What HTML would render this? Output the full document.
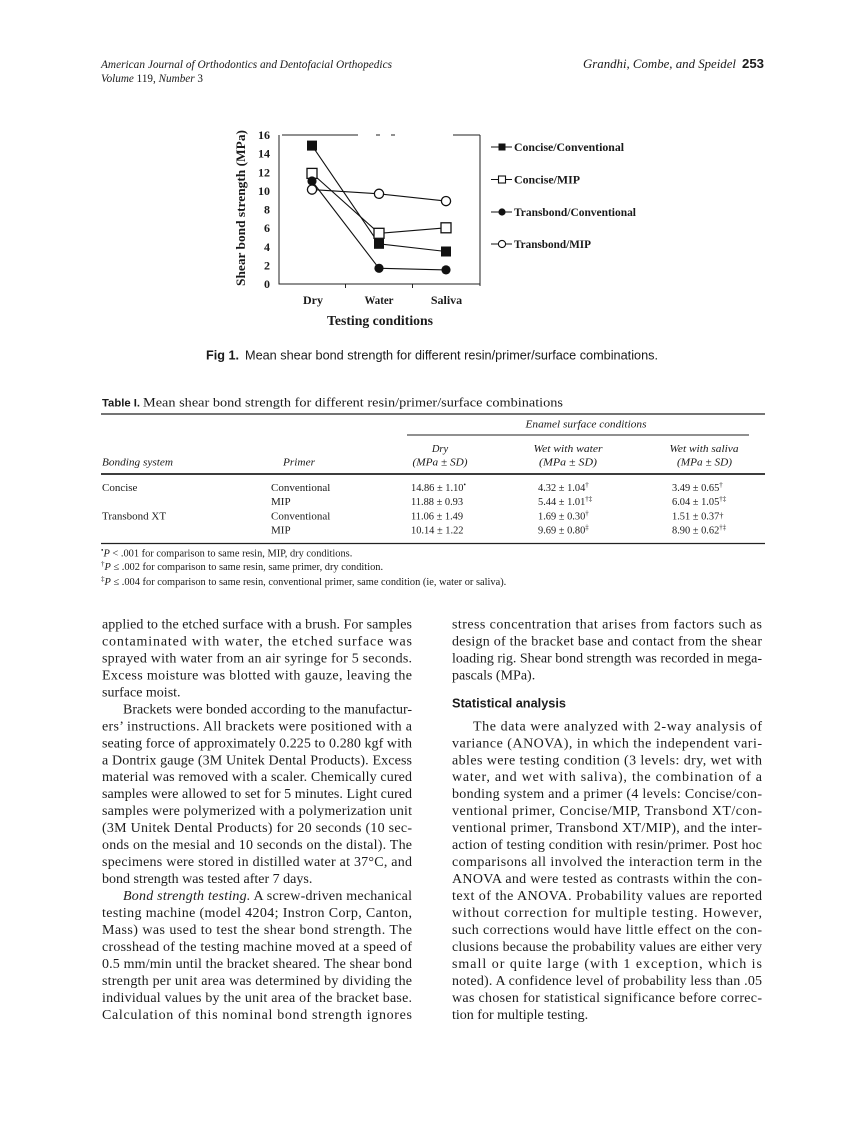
<!DOCTYPE html>
<html><head><meta charset="utf-8"><style>
html,body{margin:0;padding:0;background:#fff;}
body{width:866px;height:1122px;overflow:hidden;position:relative;}
svg{position:absolute;left:0;top:0;}
</style></head><body>
<svg width="866" height="1122" viewBox="0 0 866 1122" xmlns="http://www.w3.org/2000/svg" font-family="'Liberation Serif', serif" fill="#1a1a1a">
<!-- Header -->
<text x="101" y="68" font-size="11.5" font-style="italic" textLength="291" lengthAdjust="spacingAndGlyphs">American Journal of Orthodontics and Dentofacial Orthopedics</text>
<text x="101" y="82" font-size="11.5" font-style="italic" textLength="102" lengthAdjust="spacingAndGlyphs">Volume <tspan font-style="normal">119,</tspan> Number <tspan font-style="normal">3</tspan></text>
<text x="583" y="68" font-size="12.5" font-style="italic" textLength="153" lengthAdjust="spacingAndGlyphs">Grandhi, Combe, and Speidel</text>
<text x="742" y="68" font-size="12.5" font-weight="bold" font-family="'Liberation Sans', sans-serif" textLength="22" lengthAdjust="spacingAndGlyphs">253</text>

<!-- Chart frame -->
<g stroke="#222" stroke-width="1" fill="none">
<line x1="279" y1="135" x2="279" y2="284.5"/>
<line x1="279" y1="284" x2="480" y2="284"/>
<line x1="282" y1="135" x2="358" y2="135"/>
<line x1="376" y1="135" x2="380" y2="135"/>
<line x1="391" y1="135" x2="395" y2="135"/>
<line x1="453" y1="135" x2="480" y2="135"/>
<line x1="480" y1="135" x2="480" y2="286"/>
<line x1="345.5" y1="284" x2="345.5" y2="288"/>
<line x1="412.5" y1="284" x2="412.5" y2="288"/>
</g>
<!-- Y tick labels -->
<g font-size="12" font-weight="bold" text-anchor="end">
<text x="270" y="288">0</text>
<text x="270" y="269.4">2</text>
<text x="270" y="250.8">4</text>
<text x="270" y="232.1">6</text>
<text x="270" y="213.5">8</text>
<text x="270" y="194.9">10</text>
<text x="270" y="176.3">12</text>
<text x="270" y="157.6">14</text>
<text x="270" y="139">16</text>
</g>
<text transform="translate(245,208) rotate(-90)" text-anchor="middle" font-size="13" font-weight="bold" textLength="156" lengthAdjust="spacingAndGlyphs">Shear bond strength (MPa)</text>
<!-- X labels -->
<g font-size="12" font-weight="bold" text-anchor="middle">
<text x="313" y="304">Dry</text>
<text x="379" y="304" textLength="29" lengthAdjust="spacingAndGlyphs">Water</text>
<text x="446.5" y="304">Saliva</text>
</g>
<text x="380" y="325" text-anchor="middle" font-size="13.5" font-weight="bold" textLength="106" lengthAdjust="spacingAndGlyphs">Testing conditions</text>

<!-- Series lines -->
<g stroke="#111" stroke-width="1.1" fill="none">
<polyline points="312,145.6 379,243.8 446,251.5"/>
<polyline points="312,173.4 379,233.3 446,227.8"/>
<polyline points="312,181 379,268.3 446,269.9"/>
<polyline points="312,189.6 379,193.8 446,201.1"/>
</g>
<!-- Markers -->
<g fill="#111">
<rect x="307" y="140.6" width="10" height="10"/>
<rect x="374" y="238.8" width="10" height="10"/>
<rect x="441" y="246.5" width="10" height="10"/>
</g>
<g fill="#fff" stroke="#111" stroke-width="1.3">
<rect x="307" y="168.4" width="10" height="10"/>
<rect x="374" y="228.3" width="10" height="10"/>
<rect x="441" y="222.8" width="10" height="10"/>
</g>
<g fill="#111">
<circle cx="312" cy="181" r="4.6"/>
<circle cx="379" cy="268.3" r="4.6"/>
<circle cx="446" cy="269.9" r="4.6"/>
</g>
<g fill="#fff" stroke="#111" stroke-width="1.3">
<circle cx="312" cy="189.6" r="4.6"/>
<circle cx="379" cy="193.8" r="4.6"/>
<circle cx="446" cy="201.1" r="4.6"/>
</g>

<!-- Legend -->
<g stroke="#111" stroke-width="1.1">
<line x1="491" y1="147" x2="512" y2="147"/>
<line x1="491" y1="179.5" x2="512" y2="179.5"/>
<line x1="491" y1="212" x2="512" y2="212"/>
<line x1="491" y1="244" x2="512" y2="244"/>
</g>
<rect x="498.5" y="143.5" width="7" height="7" fill="#111"/>
<rect x="498.5" y="176" width="7" height="7" fill="#fff" stroke="#111" stroke-width="1.1"/>
<circle cx="502" cy="212" r="3.6" fill="#111"/>
<circle cx="502" cy="244" r="3.6" fill="#fff" stroke="#111" stroke-width="1.1"/>
<g font-size="12" font-weight="bold">
<text x="514" y="151" textLength="110" lengthAdjust="spacingAndGlyphs">Concise/Conventional</text>
<text x="514" y="183.5" textLength="66" lengthAdjust="spacingAndGlyphs">Concise/MIP</text>
<text x="514" y="216" textLength="122" lengthAdjust="spacingAndGlyphs">Transbond/Conventional</text>
<text x="514" y="248" textLength="77" lengthAdjust="spacingAndGlyphs">Transbond/MIP</text>
</g>

<!-- Figure caption -->
<g font-family="'Liberation Sans', sans-serif" font-size="12.7">
<text x="206" y="359.5" font-weight="bold" textLength="33" lengthAdjust="spacingAndGlyphs">Fig 1.</text>
<text x="245" y="359.5" textLength="413" lengthAdjust="spacingAndGlyphs">Mean shear bond strength for different resin/primer/surface combinations.</text>
</g>

<!-- Table title -->
<text x="102" y="406.5" font-family="'Liberation Sans', sans-serif" font-weight="bold" font-size="11" textLength="38" lengthAdjust="spacingAndGlyphs">Table I.</text>
<text x="143" y="406.5" font-size="13" textLength="420" lengthAdjust="spacingAndGlyphs">Mean shear bond strength for different resin/primer/surface combinations</text>

<!-- Table rules -->
<g stroke="#222">
<line x1="101" y1="414" x2="765" y2="414" stroke-width="1.3"/>
<line x1="407" y1="435" x2="749" y2="435" stroke-width="1"/>
<line x1="101" y1="474" x2="765" y2="474" stroke-width="1.8"/>
<line x1="101" y1="543.5" x2="765" y2="543.5" stroke-width="1.3"/>
</g>
<g font-size="10.5" font-style="italic">
<text x="586" y="427.5" text-anchor="middle" textLength="121" lengthAdjust="spacingAndGlyphs">Enamel surface conditions</text>
<text x="440" y="452" text-anchor="middle">Dry</text>
<text x="440" y="465.5" text-anchor="middle" textLength="55" lengthAdjust="spacingAndGlyphs">(MPa ± SD)</text>
<text x="568" y="452" text-anchor="middle" textLength="69" lengthAdjust="spacingAndGlyphs">Wet with water</text>
<text x="568" y="465.5" text-anchor="middle" textLength="58" lengthAdjust="spacingAndGlyphs">(MPa ± SD)</text>
<text x="704" y="452" text-anchor="middle" textLength="69" lengthAdjust="spacingAndGlyphs">Wet with saliva</text>
<text x="704.5" y="465.5" text-anchor="middle" textLength="55" lengthAdjust="spacingAndGlyphs">(MPa ± SD)</text>
<text x="102" y="465.5" textLength="71" lengthAdjust="spacingAndGlyphs">Bonding system</text>
<text x="283" y="465.5" textLength="32" lengthAdjust="spacingAndGlyphs">Primer</text>
</g>
<g font-size="11">
<text x="102" y="491">Concise</text>
<text x="102" y="519.5">Transbond XT</text>
<text x="271" y="491">Conventional</text>
<text x="271" y="505">MIP</text>
<text x="271" y="519.5">Conventional</text>
<text x="271" y="533.5">MIP</text>
</g>
<g font-size="10.4">
<text x="411" y="491">14.86 ± 1.10<tspan font-size="7" dy="-4">•</tspan></text>
<text x="411" y="505">11.88 ± 0.93</text>
<text x="411" y="519.5">11.06 ± 1.49</text>
<text x="411" y="533.5">10.14 ± 1.22</text>
<text x="538" y="491">4.32 ± 1.04<tspan font-size="7" dy="-4">†</tspan></text>
<text x="538" y="505">5.44 ± 1.01<tspan font-size="7" dy="-4">†‡</tspan></text>
<text x="538" y="519.5">1.69 ± 0.30<tspan font-size="7" dy="-4">†</tspan></text>
<text x="538" y="533.5">9.69 ± 0.80<tspan font-size="7" dy="-4">‡</tspan></text>
<text x="672" y="491">3.49 ± 0.65<tspan font-size="7" dy="-4">†</tspan></text>
<text x="672" y="505">6.04 ± 1.05<tspan font-size="7" dy="-4">†‡</tspan></text>
<text x="672" y="519.5">1.51 ± 0.37<tspan font-size="8.5" dy="-1">†</tspan></text>
<text x="672" y="533.5">8.90 ± 0.62<tspan font-size="7" dy="-4">†‡</tspan></text>
</g>

<!-- Footnotes -->
<g font-size="10.4">
<text x="101" y="556.5"><tspan font-size="7" dy="-4">•</tspan><tspan dy="4" font-style="italic">P</tspan> &lt; .001 for comparison to same resin, MIP, dry conditions.</text>
<text x="101" y="570"><tspan font-size="7" dy="-4">†</tspan><tspan dy="4" font-style="italic">P</tspan> ≤ .002 for comparison to same resin, same primer, dry condition.</text>
<text x="101" y="585"><tspan font-size="7" dy="-4">‡</tspan><tspan dy="4" font-style="italic">P</tspan> ≤ .004 for comparison to same resin, conventional primer, same condition (ie, water or saliva).</text>
</g>

<!-- Body text, left column -->
<g font-size="14" fill="#1c1c1c">
<text x="102" y="628.5" textLength="310" lengthAdjust="spacing">applied to the etched surface with a brush. For samples</text>
<text x="102" y="645.5" textLength="310" lengthAdjust="spacing">contaminated with water, the etched surface was</text>
<text x="102" y="662.4" textLength="310" lengthAdjust="spacing">sprayed with water from an air syringe for 5 seconds.</text>
<text x="102" y="679.4" textLength="310" lengthAdjust="spacing">Excess moisture was blotted with gauze, leaving the</text>
<text x="102" y="696.4">surface moist.</text>
<text x="123" y="713.4" textLength="289" lengthAdjust="spacing">Brackets were bonded according to the manufactur-</text>
<text x="102" y="730.3" textLength="310" lengthAdjust="spacing">ers’ instructions. All brackets were positioned with a</text>
<text x="102" y="747.3" textLength="310" lengthAdjust="spacing">seating force of approximately 0.225 to 0.280 kgf with</text>
<text x="102" y="764.3" textLength="310" lengthAdjust="spacing">a Dontrix gauge (3M Unitek Dental Products). Excess</text>
<text x="102" y="781.2" textLength="310" lengthAdjust="spacing">material was removed with a scaler. Chemically cured</text>
<text x="102" y="798.2" textLength="310" lengthAdjust="spacing">samples were allowed to set for 5 minutes. Light cured</text>
<text x="102" y="815.2" textLength="310" lengthAdjust="spacing">samples were polymerized with a polymerization unit</text>
<text x="102" y="832.1" textLength="310" lengthAdjust="spacing">(3M Unitek Dental Products) for 20 seconds (10 sec-</text>
<text x="102" y="849.1" textLength="310" lengthAdjust="spacing">onds on the mesial and 10 seconds on the distal). The</text>
<text x="102" y="866.1" textLength="310" lengthAdjust="spacing">specimens were stored in distilled water at 37°C, and</text>
<text x="102" y="883.1">bond strength was tested after 7 days.</text>
<text x="123" y="900" textLength="289" lengthAdjust="spacing"><tspan font-style="italic">Bond strength testing.</tspan> A screw-driven mechanical</text>
<text x="102" y="917" textLength="310" lengthAdjust="spacing">testing machine (model 4204; Instron Corp, Canton,</text>
<text x="102" y="934" textLength="310" lengthAdjust="spacing">Mass) was used to test the shear bond strength. The</text>
<text x="102" y="950.9" textLength="310" lengthAdjust="spacing">crosshead of the testing machine moved at a speed of</text>
<text x="102" y="967.9" textLength="310" lengthAdjust="spacing">0.5 mm/min until the bracket sheared. The shear bond</text>
<text x="102" y="984.9" textLength="310" lengthAdjust="spacing">strength per unit area was determined by dividing the</text>
<text x="102" y="1001.8" textLength="310" lengthAdjust="spacing">individual values by the unit area of the bracket base.</text>
<text x="102" y="1018.8" textLength="310" lengthAdjust="spacing">Calculation of this nominal bond strength ignores</text>
</g>

<!-- Body text, right column -->
<g font-size="14" fill="#1c1c1c">
<text x="452" y="628.5" textLength="310" lengthAdjust="spacing">stress concentration that arises from factors such as</text>
<text x="452" y="645.5" textLength="310" lengthAdjust="spacing">design of the bracket base and contact from the shear</text>
<text x="452" y="662.4" textLength="310" lengthAdjust="spacing">loading rig. Shear bond strength was recorded in mega-</text>
<text x="452" y="679.4">pascals (MPa).</text>
<text x="452" y="707.5" font-family="'Liberation Sans', sans-serif" font-weight="bold" font-size="13" textLength="114" lengthAdjust="spacingAndGlyphs">Statistical analysis</text>
<text x="473" y="730.3" textLength="289" lengthAdjust="spacing">The data were analyzed with 2-way analysis of</text>
<text x="452" y="747.3" textLength="310" lengthAdjust="spacing">variance (ANOVA), in which the independent vari-</text>
<text x="452" y="764.3" textLength="310" lengthAdjust="spacing">ables were testing condition (3 levels: dry, wet with</text>
<text x="452" y="781.2" textLength="310" lengthAdjust="spacing">water, and wet with saliva), the combination of a</text>
<text x="452" y="798.2" textLength="310" lengthAdjust="spacing">bonding system and a primer (4 levels: Concise/con-</text>
<text x="452" y="815.2" textLength="310" lengthAdjust="spacing">ventional primer, Concise/MIP, Transbond XT/con-</text>
<text x="452" y="832.1" textLength="310" lengthAdjust="spacing">ventional primer, Transbond XT/MIP), and the inter-</text>
<text x="452" y="849.1" textLength="310" lengthAdjust="spacing">action of testing condition with resin/primer. Post hoc</text>
<text x="452" y="866.1" textLength="310" lengthAdjust="spacing">comparisons all involved the interaction term in the</text>
<text x="452" y="883.1" textLength="310" lengthAdjust="spacing">ANOVA and were tested as contrasts within the con-</text>
<text x="452" y="900" textLength="310" lengthAdjust="spacing">text of the ANOVA. Probability values are reported</text>
<text x="452" y="917" textLength="310" lengthAdjust="spacing">without correction for multiple testing. However,</text>
<text x="452" y="934" textLength="310" lengthAdjust="spacing">such corrections would have little effect on the con-</text>
<text x="452" y="950.9" textLength="310" lengthAdjust="spacing">clusions because the probability values are either very</text>
<text x="452" y="967.9" textLength="310" lengthAdjust="spacing">small or quite large (with 1 exception, which is</text>
<text x="452" y="984.9" textLength="310" lengthAdjust="spacing">noted). A confidence level of probability less than .05</text>
<text x="452" y="1001.8" textLength="310" lengthAdjust="spacing">was chosen for statistical significance before correc-</text>
<text x="452" y="1018.8">tion for multiple testing.</text>
</g>
</svg>
</body></html>
